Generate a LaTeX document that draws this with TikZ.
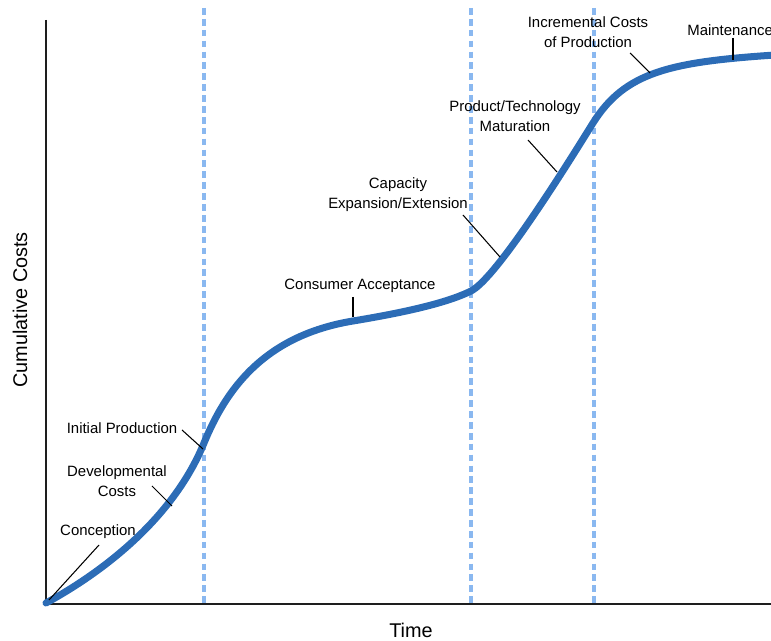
\documentclass[tikz,border=0pt]{standalone}
\usepackage{fontspec}
\setmainfont{Liberation Sans}
\definecolor{curveblue}{RGB}{44,108,182}
\definecolor{dashblue}{RGB}{138,184,240}
\definecolor{axisgray}{RGB}{30,30,30}
\begin{document}
\begin{tikzpicture}[x=0.02cm,y=-0.02cm,
  lbl/.style={inner sep=0pt,align=center,font=\fontsize{8.5}{11.3}\selectfont},
  axlbl/.style={inner sep=0pt,font=\fontsize{11.3}{13}\selectfont},
  tick/.style={line width=0.6pt,black},
  phase/.style={dashblue,line width=2pt,dash pattern=on 3.8pt off 2.4pt},
  axisline/.style={axisgray,line width=0.9pt},
  costcurve/.style={curveblue,line width=4pt,line cap=round}]
\useasboundingbox (0,0) rectangle (771,641);
\clip (0,0) rectangle (771,641);
% axes
\coordinate (O) at (46,604);
\coordinate (Ytop) at (46,20);
\coordinate (Xend) at (772,604);
% phase lines
\coordinate (p1t) at (204,8); \coordinate (p1b) at (204,604);
\coordinate (p2t) at (471,8); \coordinate (p2b) at (471,604);
\coordinate (p3t) at (594,8); \coordinate (p3b) at (594,604);
\draw[phase] (p1t) -- (p1b);
\draw[phase] (p2t) -- (p2b);
\draw[phase] (p3t) -- (p3b);
\draw[axisline] (Ytop) -- (O) -- (Xend);
% curve
\coordinate (k0) at (46,603);
\coordinate (k1) at (204,443);
\coordinate (k2) at (353,321);
\coordinate (k3) at (471,291);
\coordinate (k4) at (593,123);
\coordinate (k5) at (775,55);
\draw[costcurve] (k0) .. controls (110,568) and (175,514) .. (k1)
  .. controls (225,392) and (262,336) .. (k2)
  .. controls (398,313.5) and (445,304) .. (k3)
  .. controls (497,278) and (570,160) .. (k4)
  .. controls (625,72) and (670,62) .. (k5);
% tick end points on the curve
\coordinate (cConc) at (49,600);
\coordinate (cDev) at (172,506);
\coordinate (cInit) at (203,449);
\coordinate (cCons) at (353,317);
\coordinate (cCap) at (500,257);
\coordinate (cProd) at (557,172);
\coordinate (cIncr) at (650,73);
\coordinate (cMaint) at (733,60);
% tick start points
\coordinate (sConc) at (99,545);
\coordinate (sDev) at (152,486);
\coordinate (sInit) at (182,430);
\coordinate (sCons) at (353,297);
\coordinate (sCap) at (463,215);
\coordinate (sProd) at (528,140);
\coordinate (sIncr) at (630,53);
\coordinate (sMaint) at (733,38);
\foreach \n in {Conc,Dev,Init,Cons,Cap,Prod,Incr,Maint}
  \draw[tick] (s\n) -- (c\n);
% labels
\node[lbl] (lConc) at (98,532) {Conception};
\node[lbl] (lDev) at (117,481) {Developmental\\Costs};
\node[lbl] (lInit) at (122,428) {Initial Production};
\node[lbl] (lCons) at (360,286) {Consumer Acceptance};
\node[lbl] (lCap) at (398,195) {Capacity\\Expansion/Extension};
\node[lbl] (lProd) at (515,116) {Product/Technology\\Maturation};
\node[lbl] (lIncr) at (588,32) {Incremental Costs\\of Production};
\node[lbl,anchor=west] (lMaint) at (687,30) {Maintenance};
% axis labels
\node[axlbl] (xlab) at (411,630) {Time};
\node[axlbl,rotate=90] (ylab) at (20,310) {Cumulative Costs};
\end{tikzpicture}
\end{document}
